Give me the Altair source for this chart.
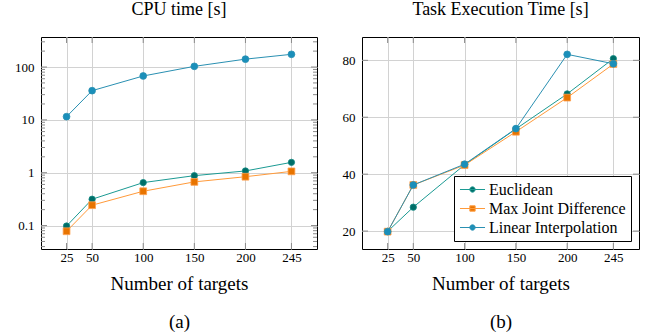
import altair as alt
import pandas as pd

targets = [25, 50, 100, 150, 200, 245]
series = ["Euclidean", "Max Joint Difference", "Linear Interpolation"]

cpu_euclidean = [0.098, 0.315, 0.65, 0.88, 1.08, 1.57]
cpu_mjd = [0.078, 0.243, 0.446, 0.67, 0.84, 1.06]
cpu_linear = [11.5, 35.7, 67.7, 103, 141, 174]

task_euclidean = [19.9, 28.4, 43.3, 55.9, 68.2, 80.6]
task_mjd = [19.8, 36.2, 43.2, 54.9, 66.9, 78.7]
task_linear = [19.8, 36.2, 43.5, 56.0, 82.1, 78.8]

x_ticks = [25, 50, 100, 150, 200, 245]
cpu_major = [0.1, 1, 10, 100]
cpu_minor = [0.04, 0.05, 0.06, 0.07, 0.08, 0.09,
             0.2, 0.3, 0.4, 0.5, 0.6, 0.7, 0.8, 0.9,
             2, 3, 4, 5, 6, 7, 8, 9,
             20, 30, 40, 50, 60, 70, 80, 90,
             200, 300]
task_major = [20, 40, 60, 80]

line_colors = ["#1b9a93", "#ff9a3a", "#2a90b2"]
marker_fill = ["#006e68", "#e87400", "#1a8fba"]
marker_edge = ["#138a84", "#ffa04d", "#2a90b2"]
marker_shape = ["circle", "square", "circle"]
marker_size = [40, 46, 46]

FONT = "'Liberation Serif', 'DejaVu Serif', serif"
TICK = "#8a8a8a"
W1, W2, H = 276, 277, 212


def long_df(values):
    rows = []
    for s, vals in zip(series, values):
        for n, v in zip(targets, vals):
            rows.append({"n": n, "v": v, "series": s})
    return pd.DataFrame(rows)


def legend_path(kind, cx=0.625, r=0.33):
    line = "M-0.94,0H2.19"
    if kind == "circle":
        return line + f"M{cx + r},0A{r},{r} 0 1 1 {cx - r},0A{r},{r} 0 1 1 {cx + r},0Z"
    return line + f"M{cx - r},{-r}H{cx + r}V{r}H{cx - r}Z"


def panel(df, width, yscale, ymajor, yminor, yfmt, title, label, legend=False):
    xscale = alt.Scale(domain=[0, 270], nice=False, zero=False)
    x_enc = alt.X("n:Q", scale=xscale,
                  axis=alt.Axis(values=x_ticks, title=["Number of targets", label],
                                titleLineHeight=38, labelPadding=2, titlePadding=10))
    y_enc = alt.Y("v:Q", scale=yscale,
                  axis=alt.Axis(values=ymajor, format=yfmt, title=None, labelPadding=7))
    layers = []
    xt = pd.DataFrame({"n": x_ticks})
    layers.append(alt.Chart(xt).mark_rule(color=TICK).encode(
        x=x_enc, y=alt.value(H), y2=alt.value(H - 6)))
    layers.append(alt.Chart(xt).mark_rule(color=TICK).encode(
        x=x_enc, y=alt.value(0), y2=alt.value(6)))
    yt = pd.DataFrame({"v": ymajor})
    layers.append(alt.Chart(yt).mark_rule(color=TICK).encode(
        y=y_enc, x=alt.value(0), x2=alt.value(6)))
    layers.append(alt.Chart(yt).mark_rule(color=TICK).encode(
        y=y_enc, x=alt.value(width - 6), x2=alt.value(width)))
    if yminor:
        ym = pd.DataFrame({"v": yminor})
        layers.append(alt.Chart(ym).mark_rule(color=TICK).encode(
            y=y_enc, x=alt.value(0), x2=alt.value(4)))
        layers.append(alt.Chart(ym).mark_rule(color=TICK).encode(
            y=y_enc, x=alt.value(width - 4), x2=alt.value(width)))
    for i, s in enumerate(series):
        sub = df[df.series == s]
        layers.append(alt.Chart(sub).mark_line(color=line_colors[i], strokeWidth=1).encode(
            x=x_enc, y=y_enc))
        layers.append(alt.Chart(sub).mark_point(
            filled=True, shape=marker_shape[i], size=marker_size[i],
            fill=marker_fill[i], stroke=marker_edge[i], strokeWidth=0.8, opacity=1
        ).encode(x=x_enc, y=y_enc))
    if legend:
        lg = alt.Legend(orient="bottom-right", title=None, offset=8)
        layers.append(alt.Chart(df).transform_filter("datum.n < 0").mark_point(
            filled=True, strokeWidth=1, opacity=1
        ).encode(
            x=x_enc, y=y_enc,
            fill=alt.Fill("series:N", scale=alt.Scale(domain=series, range=marker_fill), legend=lg),
            stroke=alt.Stroke("series:N", scale=alt.Scale(domain=series, range=line_colors), legend=lg),
            shape=alt.Shape("series:N", scale=alt.Scale(
                domain=series, range=[legend_path(k) for k in marker_shape]), legend=lg),
        ))
    return alt.layer(*layers).properties(
        width=width, height=H,
        title=alt.TitleParams(title, anchor="middle", frame="group", offset=4,
                              baseline="alphabetic"))


cpu_df = long_df([cpu_euclidean, cpu_mjd, cpu_linear])
task_df = long_df([task_euclidean, task_mjd, task_linear])

left = panel(cpu_df, W1, alt.Scale(type="log", domain=[0.036, 370], nice=False),
             cpu_major, cpu_minor, "~g", "CPU time [s]", "(a)")
right = panel(task_df, W2, alt.Scale(domain=[13.7, 88.2], nice=False, zero=False),
              task_major, None, "d", "Task Execution Time [s]", "(b)", legend=True)

chart = alt.hconcat(left, right, spacing=23).resolve_scale(
    fill="independent", stroke="independent", shape="independent"
).resolve_legend(
    fill="independent", stroke="independent", shape="independent"
).properties(
    padding={"left": 14, "top": 0, "right": 11, "bottom": 2}
).configure(
    font=FONT
).configure_view(
    stroke="black", strokeWidth=1
).configure_axis(
    labelFont=FONT, labelFontSize=13, labelColor="black",
    domain=False, ticks=False, grid=True, gridColor="#d2d2d2", gridWidth=1,
    titleFont=FONT, titleFontSize=19, titleFontWeight="normal", titleColor="black"
).configure_title(
    font=FONT, fontSize=18, fontWeight="normal", color="black"
).configure_legend(
    labelFont=FONT, labelFontSize=16, labelColor="black", strokeColor="black",
    fillColor="white", padding=5, symbolSize=256, labelOffset=13, rowPadding=2,
    cornerRadius=0, symbolStrokeWidth=1
)

chart.save("out.html", embed_options={"renderer": "svg", "actions": False})
